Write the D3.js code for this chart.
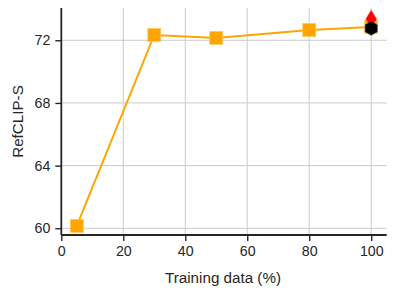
<!DOCTYPE html>
<meta charset="utf-8">
<style>
  body { margin: 0; background: #fff; }
  text { font-family: "Liberation Sans", Arial, sans-serif; fill: #262626; }
  .grid line { stroke: #cccccc; stroke-width: 1; }
</style>
<svg width="396" height="295"></svg>
<script src="https://d3js.org/d3.v7.min.js"></script>
<script>
  // data
  var trainPct = [5, 30, 50, 80, 100];
  var refclip = [60.15, 72.34, 72.15, 72.66, 72.85];
  var extraRed = [100, 73.36];   // red diamond
  var extraBlack = [100, 72.76]; // black hexagon
  var xTicks = [0, 20, 40, 60, 80, 100];
  var yTicks = [60, 64, 68, 72];

  var svg = d3.select("svg");
  var mLeft = 61.3, mRight = 386.7, mTop = 8, mBottom = 235;

  var x = d3.scaleLinear().domain([0, 105]).range([mLeft, mRight]);
  var y = d3.scaleLinear().domain([59.57, 74.06]).range([mBottom, mTop]);

  // grid
  var grid = svg.append("g").attr("class", "grid");
  grid.selectAll(".vx").data(xTicks.slice(1)).enter().append("line")
    .attr("x1", function(d) { return x(d); }).attr("x2", function(d) { return x(d); })
    .attr("y1", mTop).attr("y2", mBottom);
  grid.selectAll(".hy").data(yTicks).enter().append("line")
    .attr("x1", mLeft).attr("x2", mRight)
    .attr("y1", function(d) { return y(d); }).attr("y2", function(d) { return y(d); });

  // axes
  var xAxis = svg.append("g").attr("transform", "translate(0," + mBottom + ")")
    .call(d3.axisBottom(x).tickValues(xTicks).tickSize(6).tickPadding(5));
  var yAxis = svg.append("g").attr("transform", "translate(" + mLeft + ",0)")
    .call(d3.axisLeft(y).tickValues(yTicks).tickSize(6).tickPadding(5));
  [xAxis, yAxis].forEach(function(a) {
    a.select(".domain").attr("stroke", "#262626").attr("stroke-width", 1.8);
    a.selectAll(".tick line").attr("stroke", "#262626").attr("stroke-width", 1.4);
    a.selectAll(".tick text").style("font-size", "14.2px").attr("fill", "#262626");
  });
  // plain spines without the end caps
  xAxis.select(".domain").attr("d", "M" + mLeft + ",0H" + mRight);
  yAxis.select(".domain").attr("d", "M0," + mTop + "V" + mBottom);

  // labels
  svg.append("text").attr("x", (mLeft + mRight) / 2 - 1).attr("y", 283)
    .attr("text-anchor", "middle").style("font-size", "15.2px").text("Training data (%)");
  svg.append("text").attr("transform", "translate(23," + ((mTop + mBottom) / 2) + ") rotate(-90)")
    .attr("text-anchor", "middle").style("font-size", "15.2px").text("RefCLIP-S");

  // line
  var pts = trainPct.map(function(d, i) { return [d, refclip[i]]; });
  svg.append("path").datum(pts)
    .attr("fill", "none").attr("stroke", "#FFA500").attr("stroke-width", 2)
    .attr("d", d3.line().x(function(d) { return x(d[0]); }).y(function(d) { return y(d[1]); }));

  var s = 13;
  svg.selectAll(".sq").data(pts).enter().append("rect")
    .attr("x", function(d) { return x(d[0]) - s / 2; })
    .attr("y", function(d) { return y(d[1]) - s / 2; })
    .attr("width", s).attr("height", s)
    .attr("fill", "#FFA500").attr("stroke", "#ffc766").attr("stroke-width", 0.8);

  // red thin diamond
  var rx = x(extraRed[0]), ry = y(extraRed[1]);
  svg.append("path")
    .attr("d", "M" + rx + "," + (ry - 9) + "L" + (rx + 5.5) + "," + ry + "L" + rx + "," + (ry + 9) + "L" + (rx - 5.5) + "," + ry + "Z")
    .attr("fill", "#ff0000").attr("stroke", "#ff6666").attr("stroke-width", 0.6);

  // black hexagon (pointy top)
  var hx = x(extraBlack[0]), hy = y(extraBlack[1]), hr = 7;
  var hex = d3.range(6).map(function(i) {
    var a = Math.PI / 2 + i * Math.PI / 3;
    return [hx + hr * Math.cos(a), hy - hr * Math.sin(a)];
  });
  svg.append("path").attr("d", "M" + hex.join("L") + "Z")
    .attr("fill", "#000").attr("stroke", "#444").attr("stroke-width", 0.6);
</script>
